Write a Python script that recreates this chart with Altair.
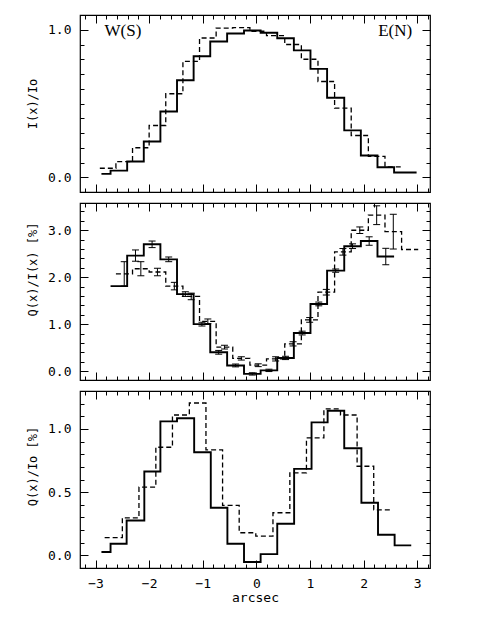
import altair as alt
import pandas as pd

# ---------------- data ----------------
# Panel 1 : I(x)/Io  (step histograms: bin edges + bin values)
p1_solid_edges = [-2.89, -2.72, -2.41, -2.10, -1.79, -1.48, -1.17, -0.86, -0.545, -0.23,
                  0.08, 0.39, 0.70, 1.01, 1.32, 1.64, 1.95, 2.26, 2.57, 2.99]
p1_solid_vals = [0.023, 0.045, 0.107, 0.242, 0.446, 0.658, 0.82, 0.92, 0.975, 0.995,
                 0.98, 0.942, 0.86, 0.735, 0.539, 0.318, 0.147, 0.068, 0.032]
p1_dash_edges = [-2.92, -2.62, -2.31, -2.00, -1.69, -1.37, -1.06, -0.75, -0.44, -0.12,
                 0.19, 0.53, 0.84, 1.15, 1.46, 1.77, 2.09, 2.40, 2.71]
p1_dash_vals = [0.061, 0.106, 0.20, 0.351, 0.566, 0.786, 0.944, 1.011, 1.015,
                0.99, 0.96, 0.90, 0.80, 0.649, 0.468, 0.283, 0.142, 0.07]

# Panel 2 : Q(x)/I(x) [%] with error bars
p2_solid_edges = [-2.72, -2.41, -2.10, -1.79, -1.48, -1.17, -0.86, -0.545, -0.23,
                  0.08, 0.39, 0.70, 1.01, 1.32, 1.64, 1.95, 2.26, 2.57]
p2_solid_vals = [1.81, 2.46, 2.70, 2.38, 1.64, 1.00, 0.40, 0.12, -0.06,
                 0.015, 0.28, 0.81, 1.43, 2.14, 2.66, 2.77, 2.44]
p2_solid_err = [0.0, 0.12, 0.07, 0.05, 0.05, 0.04, 0.04, 0.03, 0.025,
                0.025, 0.035, 0.04, 0.04, 0.035, 0.05, 0.09, 0.175]
p2_dash_edges = [-2.62, -2.31, -2.00, -1.69, -1.37, -1.06, -0.75, -0.44, -0.12,
                 0.19, 0.53, 0.84, 1.15, 1.46, 1.77, 2.09, 2.40, 2.71, 3.02]
p2_dash_vals = [2.07, 2.18, 2.11, 1.81, 1.59, 1.06, 0.51, 0.27, 0.125,
                0.26, 0.58, 1.09, 1.68, 2.54, 3.00, 3.32, 2.97, 2.59]
p2_dash_err = [0.26, 0.15, 0.08, 0.08, 0.07, 0.05, 0.04, 0.035, 0.03,
               0.045, 0.045, 0.05, 0.06, 0.07, 0.07, 0.20, 0.37, 0.0]

# Panel 3 : Q(x)/Io [%]
p3_solid_edges = [-2.89, -2.72, -2.42, -2.09, -1.79, -1.48, -1.16, -0.85, -0.54, -0.23,
                  0.08, 0.39, 0.705, 1.03, 1.33, 1.64, 1.96, 2.27, 2.58, 2.89]
p3_solid_vals = [0.026, 0.092, 0.276, 0.663, 1.06, 1.084, 0.815, 0.376, 0.092, -0.053,
                 0.01, 0.25, 0.684, 1.052, 1.144, 0.847, 0.416, 0.163, 0.079]
p3_dash_edges = [-2.83, -2.50, -2.19, -1.875, -1.565, -1.25, -0.94, -0.63, -0.32, -0.01,
                 0.31, 0.625, 0.935, 1.26, 1.57, 1.88, 2.19, 2.50]
p3_dash_vals = [0.14, 0.297, 0.54, 0.855, 1.11, 1.205, 0.834, 0.395, 0.179,
                0.152, 0.337, 0.653, 0.929, 1.158, 1.11, 0.705, 0.36]

# Annotations in panel 1
ann_text = ["W(S)", "E(N)"]
ann_x = [-2.49, 2.59]
ann_y = [0.99, 0.99]

# Axes
XDOM = [-3.29, 3.24]
X_MAJOR = [-3, -2, -1, 0, 1, 2, 3]
X_MINOR = [-3.2, -3.0, -2.8, -2.6, -2.4, -2.2, -2.0, -1.8, -1.6, -1.4, -1.2, -1.0,
           -0.8, -0.6, -0.4, -0.2, 0.0, 0.2, 0.4, 0.6, 0.8, 1.0, 1.2, 1.4, 1.6, 1.8,
           2.0, 2.2, 2.4, 2.6, 2.8, 3.0, 3.2]
P1_YDOM = [-0.1, 1.1]
P1_MAJOR = [0.0, 1.0]
P1_MINOR = [0.0, 0.1, 0.2, 0.3, 0.4, 0.5, 0.6, 0.7, 0.8, 0.9, 1.0]
P2_YDOM = [-0.19, 3.58]
P2_MAJOR = [0.0, 1.0, 2.0, 3.0]
P2_MINOR = [0.0, 0.2, 0.4, 0.6, 0.8, 1.0, 1.2, 1.4, 1.6, 1.8, 2.0, 2.2, 2.4, 2.6,
            2.8, 3.0, 3.2, 3.4]
P3_YDOM = [-0.1, 1.3]
P3_MAJOR = [0.0, 0.5, 1.0]
P3_MINOR = [0.0, 0.1, 0.2, 0.3, 0.4, 0.5, 0.6, 0.7, 0.8, 0.9, 1.0, 1.1, 1.2]

W, H = 350, 177
MAJ, MIN = 8, 4
FONT = "DejaVu Sans Mono"


def step_df(edges, vals):
    return pd.DataFrame({"x": edges, "y": list(vals) + [vals[-1]]})


def err_df(edges, vals, errs):
    rows = []
    for i, (v, e) in enumerate(zip(vals, errs)):
        if e > 0:
            c = (edges[i] + edges[i + 1]) / 2.0
            rows.append({"x": c, "lo": v - e, "hi": v + e})
    return pd.DataFrame(rows)


def mk_axis(orient, values, size, labels=False, title=None, fmt=None,
            extent=0, lpad=0, tpad=0, tsize=12, title_y=None):
    kw = dict(orient=orient, values=values, tickSize=size, offset=-size,
              domain=False, grid=False, ticks=True, tickColor="black",
              tickWidth=1, labels=labels, title=title, minExtent=extent,
              maxExtent=max(extent, 8))
    if labels:
        kw.update(format=fmt, labelFont=FONT, labelFontSize=13,
                  labelColor="black", labelPadding=lpad)
    if title is not None:
        kw.update(titleFont=FONT, titleFontSize=tsize, titleFontWeight="normal",
                  titleColor="black", titlePadding=tpad)
    if title_y is not None:
        kw.update(titleY=title_y)
    return alt.Axis(**kw)


def panel(data_layers, ydom, ymaj, ymin, ytitle, bottom_labels, title_y=None):
    xs = alt.Scale(domain=XDOM, nice=False, zero=False)
    ys = alt.Scale(domain=ydom, nice=False, zero=False)
    carrier = pd.DataFrame({"x": [0.0], "y": [(ydom[0] + ydom[1]) / 2.0]})
    if bottom_labels:
        xa = mk_axis("bottom", X_MAJOR, MAJ, labels=True, title="arcsec", fmt="d",
                     extent=28, lpad=9, tpad=3, tsize=13)
    else:
        xa = mk_axis("bottom", X_MAJOR, MAJ)
    ya = mk_axis("left", ymaj, MAJ, labels=True, title=ytitle, fmt=".1f",
                 extent=41, lpad=9, tpad=8, tsize=12, title_y=title_y)
    axes_specs = [
        (xa, ya),
        (mk_axis("bottom", X_MINOR, MIN), mk_axis("left", ymin, MIN)),
        (mk_axis("top", X_MAJOR, MAJ), mk_axis("right", ymaj, MAJ)),
        (mk_axis("top", X_MINOR, MIN), mk_axis("right", ymin, MIN)),
    ]
    carriers = [
        alt.Chart(carrier).mark_point(opacity=0, size=1).encode(
            x=alt.X("x:Q", scale=xs, axis=ax_x),
            y=alt.Y("y:Q", scale=ys, axis=ax_y))
        for ax_x, ax_y in axes_specs
    ]
    built = [f(xs, ys) for f in data_layers]
    return alt.layer(*carriers, *built).properties(width=W, height=H).resolve_axis(
        x="independent", y="independent")


def step_layer(edges, vals, dashed):
    df = step_df(edges, vals)

    def f(xs, ys):
        mk = dict(interpolate="step-after", color="black", clip=True)
        if dashed:
            mk.update(strokeWidth=1.3, strokeDash=[5, 3])
        else:
            mk.update(strokeWidth=1.9)
        return alt.Chart(df).mark_line(**mk).encode(
            x=alt.X("x:Q", scale=xs, axis=None),
            y=alt.Y("y:Q", scale=ys, axis=None),
            order="x:Q")
    return f


def err_layers(edges, vals, errs):
    df = err_df(edges, vals, errs)

    def f(xs, ys):
        rule = alt.Chart(df).mark_rule(color="black", strokeWidth=1).encode(
            x=alt.X("x:Q", scale=xs, axis=None),
            y=alt.Y("lo:Q", scale=ys, axis=None),
            y2="hi:Q")
        cap_lo = alt.Chart(df).mark_tick(orient="horizontal", size=7, thickness=1,
                                         color="black", opacity=1).encode(
            x=alt.X("x:Q", scale=xs, axis=None),
            y=alt.Y("lo:Q", scale=ys, axis=None))
        cap_hi = alt.Chart(df).mark_tick(orient="horizontal", size=7, thickness=1,
                                         color="black", opacity=1).encode(
            x=alt.X("x:Q", scale=xs, axis=None),
            y=alt.Y("hi:Q", scale=ys, axis=None))
        return alt.layer(rule, cap_lo, cap_hi)
    return f


def text_layer():
    df = pd.DataFrame({"x": ann_x, "y": ann_y, "t": ann_text})

    def f(xs, ys):
        return alt.Chart(df).mark_text(font="Liberation Serif", fontSize=17,
                                       color="black", align="center",
                                       baseline="middle").encode(
            x=alt.X("x:Q", scale=xs, axis=None),
            y=alt.Y("y:Q", scale=ys, axis=None),
            text="t:N")
    return f


p1 = panel([step_layer(p1_solid_edges, p1_solid_vals, False),
            step_layer(p1_dash_edges, p1_dash_vals, True),
            text_layer()],
           P1_YDOM, P1_MAJOR, P1_MINOR, "I(x)/Io", False)

p2 = panel([step_layer(p2_solid_edges, p2_solid_vals, False),
            step_layer(p2_dash_edges, p2_dash_vals, True),
            err_layers(p2_solid_edges, p2_solid_vals, p2_solid_err),
            err_layers(p2_dash_edges, p2_dash_vals, p2_dash_err)],
           P2_YDOM, P2_MAJOR, P2_MINOR, "Q(x)/I(x) [%]", False, title_y=66)

p3 = panel([step_layer(p3_solid_edges, p3_solid_vals, False),
            step_layer(p3_dash_edges, p3_dash_vals, True)],
           P3_YDOM, P3_MAJOR, P3_MINOR, "Q(x)/Io [%]", True, title_y=75)

chart = alt.vconcat(p1, p2, p3, spacing=7).properties(
    padding={"left": 17, "top": 5, "right": 5, "bottom": 5},
    background="white",
).configure_view(stroke="black", strokeWidth=1.2)

chart.save("out.html", embed_options={"renderer": "svg", "actions": False})
